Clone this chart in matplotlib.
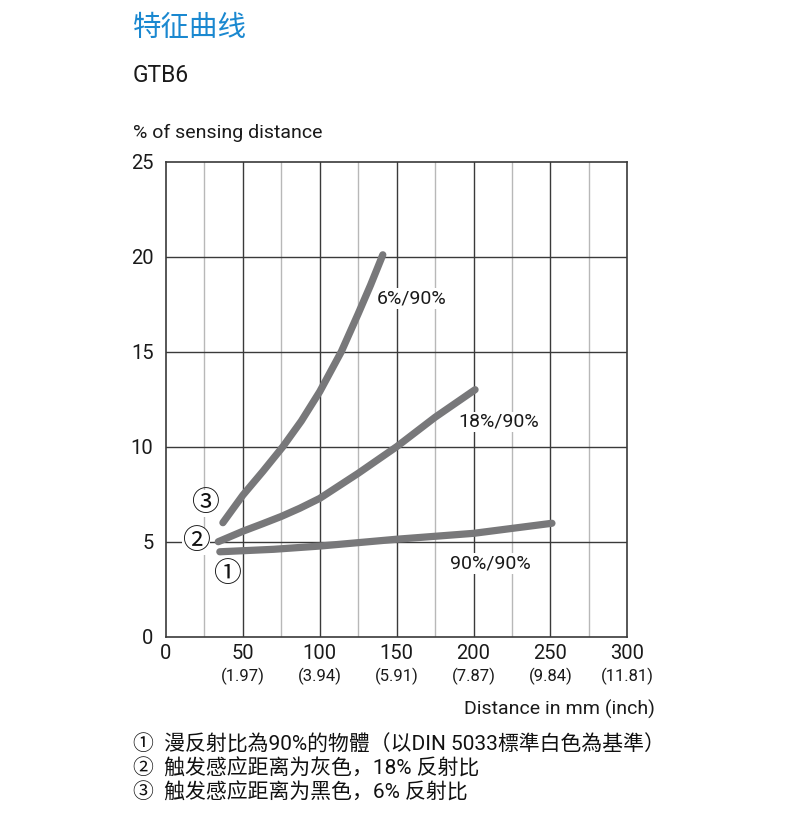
import matplotlib
matplotlib.use("Agg")
import matplotlib.pyplot as plt

plt.rcParams['font.family'] = ['Roboto', 'Noto Sans CJK SC', 'DejaVu Sans']

# data
x_ticks = [0, 50, 100, 150, 200, 250, 300]
inch_labels = ['', '(1.97)', '(3.94)', '(5.91)', '(7.87)', '(9.84)', '(11.81)']
y_ticks = [0, 5, 10, 15, 20, 25]

x_90 = [35, 70, 100, 150, 200, 251]
y_90 = [4.47, 4.6, 4.77, 5.13, 5.44, 5.97]

x_18 = [34, 50, 63, 75, 87, 100, 125, 150, 175, 201]
y_18 = [5.0, 5.55, 5.95, 6.33, 6.76, 7.28, 8.6, 10.0, 11.55, 13.0]

x_6 = [37, 50, 63, 76, 88, 100, 114, 125, 133, 141]
y_6 = [6.0, 7.45, 8.7, 10.0, 11.35, 12.9, 15.0, 17.0, 18.5, 20.1]

notes = ['①  漫反射比為90%的物體（以DIN 5033標準白色為基準）',
         '②  触发感应距离为灰色，18% 反射比',
         '③  触发感应距离为黑色，6% 反射比']

W, H = 790, 827
fig = plt.figure(figsize=(W/100, H/100), dpi=100)
ax = fig.add_axes([166/W, 1-636.7/H, (627.3-166)/W, (636.7-161.7)/H])

ax.set_xlim(0, 300)
ax.set_ylim(0, 25)

# grid
for xv in range(25, 300, 50):
  ax.axvline(xv, color='#b8b8b8', lw=1.0, zorder=1)
for xv in range(50, 300, 50):
  ax.axvline(xv, color='#3a3a3a', lw=1.0, zorder=1)
for yv in range(5, 25, 5):
  ax.axhline(yv, color='#3a3a3a', lw=1.0, zorder=1)
for s in ax.spines.values():
  s.set_color('#3a3a3a')
  s.set_linewidth(1.2)

gray = '#78787a'
for xs, ys in [(x_90, y_90), (x_18, y_18), (x_6, y_6)]:
  ax.plot(xs, ys, color=gray, lw=5.2, solid_capstyle='round',
          solid_joinstyle='round', zorder=3)

ax.set_xticks(x_ticks)
ax.set_xticklabels([str(v) for v in x_ticks], fontsize=14.5, color='#1a1a1a')
ax.set_yticks(y_ticks)
ax.set_yticklabels([str(v) for v in y_ticks], fontsize=14.5, color='#1a1a1a')
ax.tick_params(length=0, pad=5)
ax.tick_params(axis='y', pad=9)

for xv, lab in zip(x_ticks, inch_labels):
  ax.annotate(lab, (xv, 0), xycoords=('data', 'axes fraction'),
              xytext=(0, -40), textcoords='offset pixels',
              ha='center', va='center', fontsize=12, color='#1a1a1a')

lbl = dict(fontsize=14, color='#1a1a1a', zorder=4,
           bbox=dict(facecolor='white', edgecolor='none', pad=1.0))
ax.text(137, 17.8, '6%/90%', ha='left', va='center', **lbl)
ax.text(190, 11.3, '18%/90%', ha='left', va='center', **lbl)
ax.text(185, 3.86, '90%/90%', ha='left', va='center', **lbl)

circ = dict(fontsize=20, color='#111111', ha='center', va='center', zorder=5,
            bbox=dict(facecolor='white', edgecolor='none', pad=0.3))
ax.text(25.4, 7.0, '③', **circ)
ax.text(19.5, 5.0, '②', clip_on=False, **circ)
ax.text(39.7, 3.25, '①', **circ)

fig.text(133/W, 1-28/H, '特征曲线', fontsize=20.5, color='#1a88d0', va='center', ha='left')
fig.text(133/W, 1-75/H, 'GTB6', fontsize=16.5, color='#1a1a1a', va='center', ha='left')
fig.text(133/W, 1-133/H, '% of sensing distance', fontsize=14, color='#1a1a1a', va='center', ha='left')
fig.text(655/W, 1-709/H, 'Distance in mm (inch)', fontsize=14, color='#1a1a1a', va='center', ha='right')

for i, line in enumerate(notes):
  fig.text(133/W, 1-(745+24*i)/H, line, fontsize=15, color='#111111', va='center', ha='left')

fig.savefig('out.png', dpi=100)
